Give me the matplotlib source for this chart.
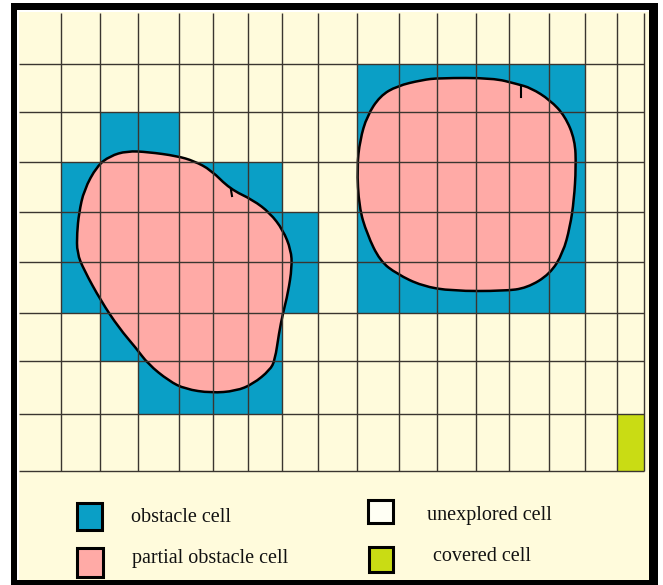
# Coverage grid map with two obstacles and a legend, drawn in pixel units.
import matplotlib.pyplot as plt
from matplotlib.patches import Rectangle, PathPatch
from matplotlib.path import Path

plt.rcParams['font.family'] = ['Liberation Serif', 'DejaVu Serif']

# grid geometry (pixel units, y grows downward)
col_edges = [19, 61, 100, 138, 179, 213, 248, 282, 318, 357, 399, 437, 476, 509, 549, 585, 617, 644]
row_edges = [13, 64, 112, 162, 212, 262, 313, 361, 414, 471]

# obstacle cells: (row, first col, last col)
obstacle_runs = [
    (1, 9, 14), (2, 9, 14), (3, 9, 14), (4, 9, 14), (5, 9, 14),
    (2, 2, 3), (3, 1, 6), (4, 1, 7), (5, 1, 7), (6, 2, 6), (7, 3, 6),
]
covered_cells = [(8, 16)]

# outlines of the two obstacles
left_blob_x = [127, 148, 177, 194, 211, 230, 253, 270, 283, 291, 292, 288, 283, 279, 275, 270,
               253, 236, 211, 185, 169, 148, 136, 119, 101, 84, 77, 77, 79, 84, 97, 110]
left_blob_y = [151, 152, 156, 161, 170, 189, 200, 213, 230, 250, 267, 293, 313, 333, 360, 370,
               384, 391, 393, 389, 381, 364, 348, 328, 301, 270, 253, 233, 213, 190, 166, 156]
right_blob_x = [439, 493, 517, 531, 550, 565, 575, 576, 574, 570, 563, 550, 527, 504,
                452, 422, 397, 380, 367, 359, 357, 360, 367, 380, 397, 422]
right_blob_y = [78, 78, 84, 88, 100, 116, 140, 167, 200, 227, 253, 274, 288, 291,
                291, 286, 274, 261, 234, 207, 167, 140, 116, 96, 86, 80]
# small pen marks hanging off the outlines
notch_x = [[521, 521], [231, 232]]
notch_y = [[86, 97], [190, 196]]

legend_labels = ['obstacle cell', 'partial obstacle cell', 'unexplored cell', 'covered cell']

cream = '#fffbdc'
blue = '#0a9fc6'
pink = '#ffaaa6'
green = '#c9dc14'
unexplored = '#fffff4'


def smooth_closed_path(xs, ys):
    # quadratic bezier through segment midpoints, using the points as controls
    pts = list(zip(xs, ys))
    n = len(pts)
    mids = [((pts[i][0] + pts[(i + 1) % n][0]) / 2, (pts[i][1] + pts[(i + 1) % n][1]) / 2)
            for i in range(n)]
    verts = [mids[-1]]
    codes = [Path.MOVETO]
    for i in range(n):
        verts += [pts[i], mids[i]]
        codes += [Path.CURVE3, Path.CURVE3]
    verts.append(mids[-1])
    codes.append(Path.CLOSEPOLY)
    return Path(verts, codes)


fig = plt.figure(figsize=(6.63, 5.85), dpi=100)
ax = fig.add_axes([0, 0, 1, 1])
ax.set_xlim(0, 663)
ax.set_ylim(585, 0)
ax.axis('off')

# outer frame
ax.add_patch(Rectangle((11, 3), 647, 582, facecolor='black', edgecolor='none'))
ax.add_patch(Rectangle((17, 10), 632, 570, facecolor='white', edgecolor='none'))
ax.add_patch(Rectangle((18.5, 12), 630.5, 568, facecolor=cream, edgecolor='none'))

# cells
for r, c0, c1 in obstacle_runs:
    x0, x1 = col_edges[c0], col_edges[c1 + 1]
    y0, y1 = row_edges[r], row_edges[r + 1]
    ax.add_patch(Rectangle((x0, y0), x1 - x0, y1 - y0, facecolor=blue, edgecolor='none'))
for r, c in covered_cells:
    x0, x1 = col_edges[c], col_edges[c + 1]
    y0, y1 = row_edges[r], row_edges[r + 1]
    ax.add_patch(Rectangle((x0, y0), x1 - x0, y1 - y0, facecolor=green, edgecolor='none'))

blobs = [smooth_closed_path(left_blob_x, left_blob_y),
         smooth_closed_path(right_blob_x, right_blob_y)]

# partial obstacle fill
for p in blobs:
    ax.add_patch(PathPatch(p, facecolor=pink, edgecolor='none'))

# grid lines
grid_color = '#3a3530'
for x in col_edges[1:]:
    ax.plot([x, x], [row_edges[0], row_edges[-1]], color=grid_color, lw=1.0, solid_capstyle='butt')
for y in row_edges[1:]:
    ax.plot([col_edges[0], col_edges[-1]], [y, y], color=grid_color, lw=1.0, solid_capstyle='butt')

# obstacle outlines
for p in blobs:
    ax.add_patch(PathPatch(p, facecolor='none', edgecolor='black', lw=1.8))
for nx, ny in zip(notch_x, notch_y):
    ax.plot(nx, ny, color='black', lw=1.5)

# legend
legend_boxes = [(77, 503, 25, 27, blue), (77, 548, 26, 29, pink),
                (368, 500, 25, 23, unexplored), (369, 547, 24, 25, green)]
legend_text_pos = [(131, 522), (132, 563), (427, 520), (433, 561)]
for (x, y, w, h, fc), label, (tx, ty) in zip(legend_boxes, legend_labels, legend_text_pos):
    ax.add_patch(Rectangle((x, y), w, h, facecolor=fc, edgecolor='black', lw=2.2))
    ax.text(tx, ty, label, fontsize=14.5, va='baseline', ha='left', color='#111111')

fig.savefig('out.png', dpi=100)
